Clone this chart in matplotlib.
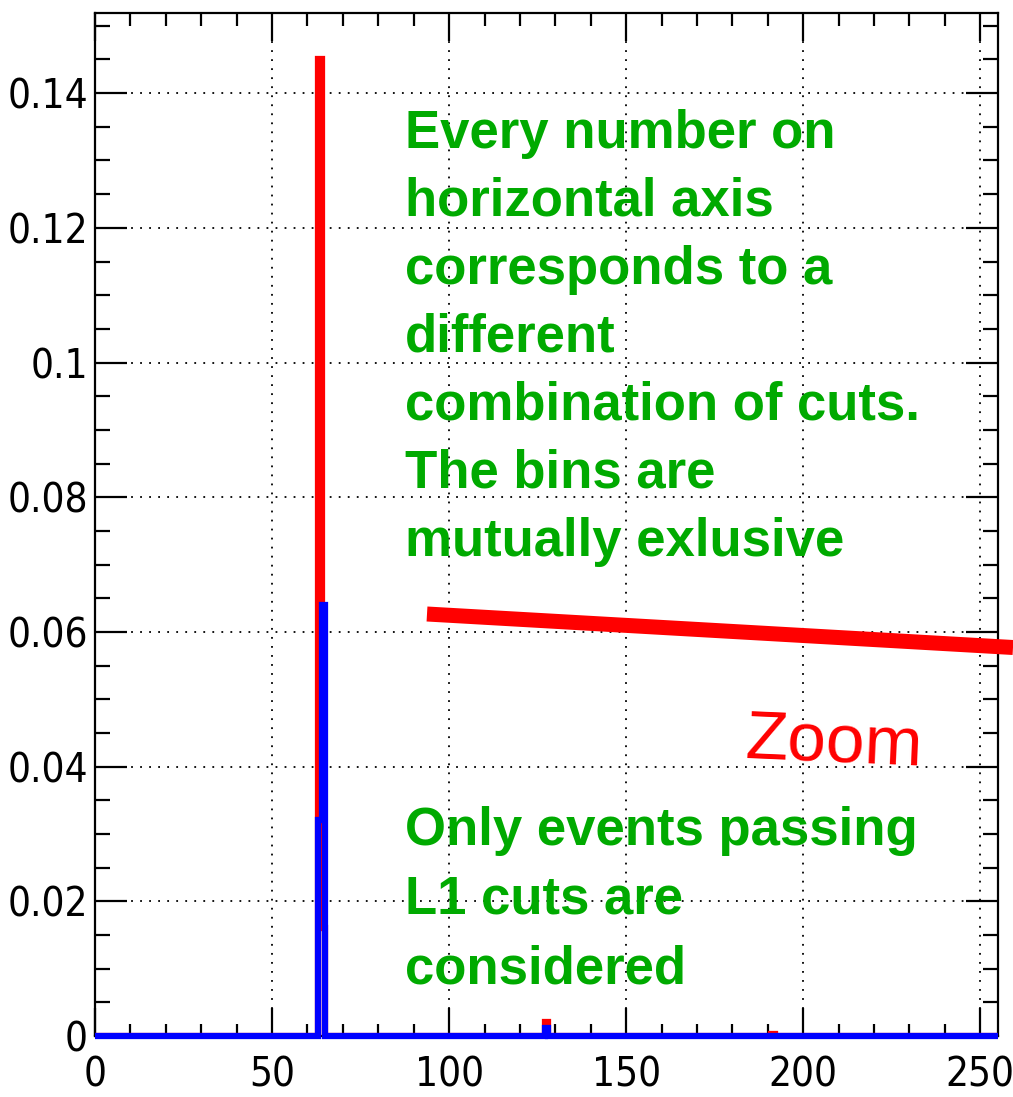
import matplotlib
matplotlib.use("Agg")
import matplotlib.pyplot as plt
from matplotlib.lines import Line2D
from matplotlib.ticker import MultipleLocator, FormatStrFormatter
import numpy as np

# histogram contents (only non-empty bins listed), 255 bins of width 1
n_bins = 255
red_bins = [63, 64, 127, 191]
red_vals = [0.145, 0.016, 0.0021, 0.0003]
blue_bins = [63, 64, 127]
blue_vals = [0.032, 0.064, 0.0012]

block1 = ["Every number on", "horizontal axis", "corresponds to a", "different",
          "combination of cuts.", "The bins are", "mutually exlusive"]
block2 = ["Only events passing", "L1 cuts are", "considered"]

W, H = 1013, 1097
fig = plt.figure(figsize=(W / 100, H / 100), dpi=100)
ax = fig.add_axes([95 / W, (H - 1036) / H, 903 / W, 1023 / H])

edges = np.arange(n_bins + 1)
red = np.zeros(n_bins)
red[red_bins] = red_vals
blue = np.zeros(n_bins)
blue[blue_bins] = blue_vals

ax.stairs(red, edges, color="#ff0000", lw=4.5, baseline=0, zorder=3)
ax.stairs(blue, edges, color="#0000ff", lw=4.5, baseline=0, zorder=4, clip_on=False)

ax.set_xlim(0, 255)
ax.set_ylim(0, 0.1519)

ax.xaxis.set_major_locator(MultipleLocator(50))
ax.xaxis.set_minor_locator(MultipleLocator(10))
ax.yaxis.set_major_locator(MultipleLocator(0.02))
ax.yaxis.set_minor_locator(MultipleLocator(0.005))
ax.yaxis.set_major_formatter(FormatStrFormatter("%g"))

ax.tick_params(which="both", direction="in", top=True, right=True, width=1.6, colors="black")
ax.tick_params(axis="x", which="major", length=20, pad=14)
ax.tick_params(axis="x", which="minor", length=9)
ax.tick_params(axis="y", which="major", length=23, pad=5)
ax.tick_params(axis="y", which="minor", length=11)
for lab in ax.get_xticklabels() + ax.get_yticklabels():
    lab.set_family("DejaVu Sans")
    lab.set_stretch("condensed")
    lab.set_fontsize(29)

ax.grid(True, which="major", color="black", linestyle=(0, (1, 4)), lw=1.3)
for sp in ax.spines.values():
    sp.set_linewidth(1.6)

green = "#00aa00"
for i, line in enumerate(block1):
    fig.text(405 / W, 1 - (148 + i * 68) / H, line, color=green, fontsize=38,
             fontweight="bold", family="Liberation Sans", va="baseline", ha="left")
for i, line in enumerate(block2):
    fig.text(405 / W, 1 - (845 + i * 69) / H, line, color=green, fontsize=38,
             fontweight="bold", family="Liberation Sans", va="baseline", ha="left")

fig.text(745 / W, 1 - 758 / H, "Zoom", color="#ff0000", fontsize=50,
         family="Liberation Sans", va="baseline", ha="left",
         rotation=-2.5, rotation_mode="anchor")

fig.add_artist(Line2D([427 / W, 1.0], [1 - 614 / H, 1 - 647.5 / H],
                      color="#ff0000", lw=10.8, solid_capstyle="butt",
                      transform=fig.transFigure))

fig.savefig("out.png", dpi=100)
